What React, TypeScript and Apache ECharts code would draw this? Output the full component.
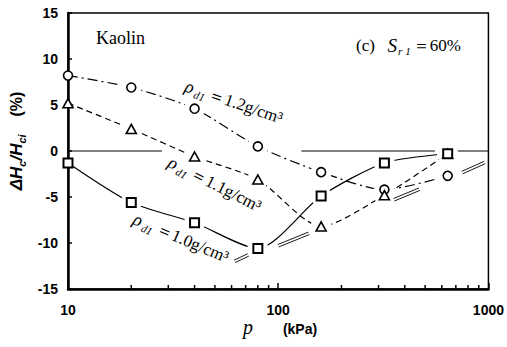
import React, { useEffect, useRef } from "react";
import * as echarts from "echarts";

// Applied pressure p (kPa) and the change in collapse height ΔHc/Hci (%)
const pressure = [10, 20, 40, 80, 160, 320, 640];
const rho12 = [8.2, 6.9, 4.6, 0.5, -2.3, -4.2, -2.7];
const rho11 = [5.2, 2.4, -0.6, -3.1, -8.2, -4.8, -0.3];
const rho10 = [-1.3, -5.6, -7.8, -10.6, -4.9, -1.3, -0.3];

// Minor ticks on the logarithmic p axis
const minorTicks = [20, 30, 40, 50, 60, 70, 80, 90, 200, 300, 400, 500, 600, 700, 800, 900];

// Pieces of the 0 % reference line, as [p start, p end]
const zeroSegments = [
  [10, 28],
  [129, 556],
  [698, 1000],
];

// Double-line dashes of the limit line, as [p1, value1, p2, value2]
const limitSegments = [
  [62, -12.0, 72, -11.3],
  [100, -10.3, 140, -8.95],
  [355, -5.3, 470, -4.15],
  [750, -2.35, 960, -1.25],
];

const yMin = -15;
const yMax = 15;

const SANS = "'Liberation Sans', Arial, sans-serif";
const SERIF = "'Liberation Serif', 'Times New Roman', serif";

const pairs = (vals: number[]) => pressure.map((p, i) => [p, vals[i]]);

function curve(vals: number[], dash: any) {
  return {
    type: "line",
    data: pairs(vals),
    symbol: "none",
    showSymbol: false,
    smooth: 0.25,
    silent: true,
    z: 2,
    lineStyle: { color: "#000", width: 1.2, type: dash },
  };
}

function markers(vals: number[], symbol: string, size: any, border: number) {
  return {
    type: "scatter",
    data: pairs(vals),
    symbol,
    symbolSize: size,
    silent: true,
    z: 5,
    itemStyle: { color: "#fff", borderColor: "#000", borderWidth: border, opacity: 1 },
  };
}

// every measured point except those sitting on the p = 10 axis line
const haloData = [rho12, rho11, rho10]
  .flatMap((vals) => pairs(vals))
  .filter((d) => d[0] > pressure[0]);

function densityLabel(value: string, x: number, y: number, deg: number) {
  return {
    type: "text",
    x,
    y,
    rotation: (-deg * Math.PI) / 180,
    z: 10,
    style: {
      text: `{r|ρ}{s|d1}{n|＝${value}g/cm³}`,
      align: "center",
      verticalAlign: "middle",
      fill: "#000",
      rich: {
        r: { fontFamily: SERIF, fontStyle: "italic", fontSize: 18, lineHeight: 22, verticalAlign: "middle" },
        s: { fontFamily: SERIF, fontStyle: "italic", fontSize: 11, lineHeight: 22, verticalAlign: "bottom", padding: [0, 3, 0, 2] },
        n: { fontFamily: SERIF, fontSize: 17, lineHeight: 22, verticalAlign: "middle" },
      },
    },
  };
}

export default function App() {
  const ref = useRef<HTMLDivElement>(null);

  useEffect(() => {
    if (!ref.current) return;
    const chart = echarts.init(ref.current, undefined, { renderer: "svg" });

    const option: any = {
      animation: false,
      backgroundColor: "#fff",
      grid: {
        left: 68,
        right: 16,
        top: 13,
        bottom: 58,
        show: true,
        borderColor: "#000",
        borderWidth: 1.5,
        backgroundColor: "transparent",
      },
      xAxis: {
        type: "log",
        logBase: 10,
        min: 10,
        max: 1000,
        axisLine: { onZero: false, lineStyle: { color: "#000", width: 2.5 } },
        axisTick: { show: true, inside: true, length: 6, lineStyle: { color: "#000", width: 1.5 } },
        axisLabel: {
          color: "#000",
          fontFamily: SANS,
          fontWeight: "bold",
          fontSize: 14,
          margin: 14,
          formatter: (v: number) => String(Math.round(v)),
        },
        splitLine: { show: false },
      },
      yAxis: {
        type: "value",
        min: yMin,
        max: yMax,
        interval: 5,
        axisLine: { show: true, lineStyle: { color: "#000", width: 2.5 } },
        axisTick: { show: true, inside: true, length: 4, lineStyle: { color: "#000", width: 1.5 } },
        axisLabel: { color: "#000", fontFamily: SANS, fontWeight: "bold", fontSize: 14, margin: 10 },
        splitLine: { show: false },
      },
      series: [
        {
          // 0 % reference line
          type: "custom",
          data: zeroSegments,
          silent: true,
          z: 1,
          renderItem: (_p: any, api: any) => {
            const a = api.coord([api.value(0), 0]);
            const b = api.coord([api.value(1), 0]);
            return {
              type: "line",
              shape: { x1: a[0], y1: a[1], x2: b[0], y2: b[1] },
              style: { stroke: "#000", lineWidth: 1.2 },
            };
          },
        },
        {
          // minor ticks along the bottom axis
          type: "custom",
          data: minorTicks.map((v) => [v]),
          silent: true,
          z: 1,
          clip: false,
          renderItem: (_p: any, api: any) => {
            const a = api.coord([api.value(0), yMin]);
            return {
              type: "line",
              shape: { x1: a[0], y1: a[1], x2: a[0], y2: a[1] - 4 },
              style: { stroke: "#000", lineWidth: 1.5 },
            };
          },
        },
        curve(rho12, [10, 4, 2, 4]),
        curve(rho11, [6, 4]),
        curve(rho10, "solid"),
        {
          // white gaps where the curves meet the markers
          type: "custom",
          data: haloData,
          silent: true,
          z: 3,
          renderItem: (_p: any, api: any) => {
            const c = api.coord([api.value(0), api.value(1)]);
            return {
              type: "circle",
              shape: { cx: c[0], cy: c[1], r: 10.5 },
              style: { fill: "#fff" },
            };
          },
        },
        {
          // double-line limit dashes
          type: "custom",
          data: limitSegments,
          silent: true,
          z: 4,
          renderItem: (_p: any, api: any) => {
            const a = api.coord([api.value(0), api.value(1)]);
            const b = api.coord([api.value(2), api.value(3)]);
            const dx = b[0] - a[0];
            const dy = b[1] - a[1];
            const len = Math.sqrt(dx * dx + dy * dy) || 1;
            const nx = (-dy / len) * 1.3;
            const ny = (dx / len) * 1.3;
            const mk = (s: number) => ({
              type: "line",
              shape: { x1: a[0] + nx * s, y1: a[1] + ny * s, x2: b[0] + nx * s, y2: b[1] + ny * s },
              style: { stroke: "#000", lineWidth: 0.9 },
            });
            return { type: "group", children: [mk(1), mk(-1)] };
          },
        },
        markers(rho12, "circle", 9, 1.6),
        markers(rho11, "triangle", [10, 9], 1.6),
        markers(rho10, "rect", 9, 2),
      ],
      graphic: [
        {
          type: "text",
          x: 96,
          y: 38,
          z: 10,
          style: { text: "Kaolin", fontFamily: SERIF, fontSize: 18, fill: "#000", verticalAlign: "middle" },
        },
        {
          type: "text",
          x: 356,
          y: 45,
          z: 10,
          style: {
            text: "{n|(c)   }{i|S}{s|r 1}{n|＝60%}",
            verticalAlign: "middle",
            fill: "#000",
            rich: {
              n: { fontFamily: SERIF, fontSize: 17, lineHeight: 22, verticalAlign: "middle" },
              i: { fontFamily: SERIF, fontStyle: "italic", fontSize: 19, lineHeight: 22, verticalAlign: "middle" },
              s: { fontFamily: SERIF, fontStyle: "italic", fontSize: 11, lineHeight: 22, verticalAlign: "bottom", padding: [0, 2, 0, 1] },
            },
          },
        },
        densityLabel("1.2", 234, 102, 19),
        densityLabel("1.1", 215, 184, 27),
        densityLabel("1.0", 181, 238, 23),
        {
          type: "text",
          x: 16,
          y: 141,
          rotation: Math.PI / 2,
          z: 10,
          style: {
            text: "{i|ΔH}{s|c}{i|/H}{s|ci}{n|    (%)}",
            align: "center",
            verticalAlign: "middle",
            fill: "#000",
            rich: {
              i: { fontFamily: SANS, fontStyle: "italic", fontWeight: "bold", fontSize: 17, lineHeight: 22, verticalAlign: "middle" },
              s: { fontFamily: SANS, fontStyle: "italic", fontWeight: "bold", fontSize: 11, lineHeight: 22, verticalAlign: "bottom" },
              n: { fontFamily: SANS, fontWeight: "bold", fontSize: 16, lineHeight: 22, verticalAlign: "middle" },
            },
          },
        },
        {
          type: "text",
          x: 248,
          y: 327,
          z: 10,
          style: { text: "p", fontFamily: SERIF, fontStyle: "italic", fontSize: 20, fill: "#000", align: "center", verticalAlign: "middle" },
        },
        {
          type: "text",
          x: 300,
          y: 329,
          z: 10,
          style: { text: "(kPa)", fontFamily: SANS, fontWeight: "bold", fontSize: 14, fill: "#000", align: "center", verticalAlign: "middle" },
        },
      ],
    };

    chart.setOption(option);
    return () => chart.dispose();
  }, []);

  return (
    <div
      ref={ref}
      style={{ position: "fixed", left: 0, top: 0, width: 507, height: 347, background: "#fff" }}
    />
  );
}
